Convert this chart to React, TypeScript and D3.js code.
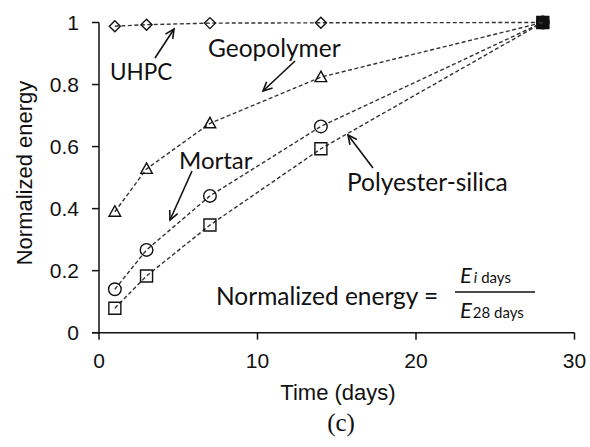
import * as d3 from 'd3'

const days = [1, 3, 7, 14, 28]
const uhpc = [0.988, 0.993, 0.998, 0.999, 1]
const geopolymer = [0.39, 0.528, 0.675, 0.824, 1]
const mortar = [0.14, 0.267, 0.441, 0.665, 1]
const polyesterSilica = [0.079, 0.183, 0.347, 0.593, 1]
const xTicks = [0, 10, 20, 30]
const yTicks = [0, 0.2, 0.4, 0.6, 0.8, 1]

const W = 590
const H = 447

type Marker = 'diamond' | 'triangle' | 'circle' | 'square'

const series: { name: string; values: number[]; marker: Marker }[] = [
  { name: 'Polyester-silica', values: polyesterSilica, marker: 'square' },
  { name: 'Mortar', values: mortar, marker: 'circle' },
  { name: 'Geopolymer', values: geopolymer, marker: 'triangle' },
  { name: 'UHPC', values: uhpc, marker: 'diamond' },
]

// text label + arrow (tail -> head) in pixel space
const notes = [
  { text: 'UHPC', x: 110, y: 80, size: 22.5, tail: [155, 58], head: [174, 29] },
  { text: 'Geopolymer', x: 208, y: 57, size: 24.5, tail: [295, 61], head: [263, 91] },
  { text: 'Mortar', x: 179, y: 169, size: 24, tail: [192, 171], head: [170, 220] },
  { text: 'Polyester-silica', x: 347, y: 191, size: 24.5, tail: [373, 168], head: [348, 135] },
]

function markerPath(m: Marker) {
  switch (m) {
    case 'diamond':
      return 'M0,-5.5L5.5,0L0,5.5L-5.5,0Z'
    case 'triangle':
      return 'M0,-6L5.8,4.5L-5.8,4.5Z'
    case 'square':
      return 'M-6,-6H6V6H-6Z'
    default:
      return d3.arc()({ innerRadius: 0, outerRadius: 6.3, startAngle: 0, endAngle: 2 * Math.PI }) || ''
  }
}

function arrowHead(tail: number[], head: number[]) {
  const a = Math.atan2(head[1] - tail[1], head[0] - tail[0])
  const len = 10
  const spread = 0.45
  const p1 = [head[0] - len * Math.cos(a - spread), head[1] - len * Math.sin(a - spread)]
  const p2 = [head[0] - len * Math.cos(a + spread), head[1] - len * Math.sin(a + spread)]
  return `M${p1[0]},${p1[1]}L${head[0]},${head[1]}L${p2[0]},${p2[1]}`
}

export default function App() {
  const x = d3.scaleLinear().domain([0, 30]).range([99, 574.5])
  const y = d3.scaleLinear().domain([0, 1]).range([332.7, 22.5])

  const line = d3
    .line<number>()
    .x((_, i) => x(days[i]))
    .y(d => y(d))

  const tickFont = '"Liberation Sans", Arial, sans-serif'
  const noteFont = 'Lato, "Open Sans", sans-serif'
  const last = days.length - 1

  return (
    <svg width={W} height={H} style={{ position: 'absolute', left: 0, top: 0, background: '#fff' }}>
      {/* series */}
      {series.map(s => (
        <g key={s.name}>
          <path d={line(s.values) || ''} fill="none" stroke="#333" strokeWidth={1.4} strokeDasharray="4,2.5" />
          {s.values.map((v, i) => (
            <path
              key={i}
              d={markerPath(s.marker)}
              transform={`translate(${x(days[i])},${y(v)})`}
              fill={s.marker === 'square' && i === last ? '#111' : 'none'}
              stroke="#111"
              strokeWidth={1.4}
            />
          ))}
        </g>
      ))}

      {/* axes */}
      <g stroke="#111" strokeWidth={1.5}>
        <line x1={x(0)} x2={x(0)} y1={y(1)} y2={y(0)} />
        <line x1={x(0) - 7} x2={x(30)} y1={y(0)} y2={y(0)} />
        {yTicks.map(t => (
          <line key={t} x1={x(0) - 7} x2={x(0)} y1={y(t)} y2={y(t)} />
        ))}
        {xTicks.map(t => (
          <line key={t} x1={x(t)} x2={x(t)} y1={y(0)} y2={y(0) + 7} />
        ))}
      </g>
      <g fontFamily={tickFont} fontSize={21} fill="#111">
        {yTicks.map(t => (
          <text key={t} x={79} y={y(t)} dy="0.35em" textAnchor="end">
            {d3.format('~g')(t)}
          </text>
        ))}
        {xTicks.map(t => (
          <text key={t} x={x(t)} y={368} textAnchor="middle">
            {t}
          </text>
        ))}
        <text x={338} y={400} textAnchor="middle" fontSize={22}>
          Time (days)
        </text>
        <text transform="translate(32,173) rotate(-90)" textAnchor="middle" fontSize={22}>
          Normalized energy
        </text>
      </g>

      {/* annotations */}
      <g fontFamily={noteFont} fill="#111">
        {notes.map(n => (
          <g key={n.text}>
            <text x={n.x} y={n.y} fontSize={n.size}>
              {n.text}
            </text>
            <line x1={n.tail[0]} y1={n.tail[1]} x2={n.head[0]} y2={n.head[1]} stroke="#111" strokeWidth={1.6} />
            <path d={arrowHead(n.tail, n.head)} fill="none" stroke="#111" strokeWidth={1.6} />
          </g>
        ))}
        <text x={216} y={305} fontSize={24.5}>
          Normalized energy =
        </text>
        <g fontSize={22}>
          <text x={460} y={283}>
            <tspan fontStyle="italic">E</tspan>
            <tspan fontStyle="italic" fontSize={15} dx={2}>i</tspan>
            <tspan fontSize={15}> days</tspan>
          </text>
          <line x1={455} x2={535} y1={292} y2={292} stroke="#111" strokeWidth={1.4} />
          <text x={460} y={318}>
            <tspan fontStyle="italic">E</tspan>
            <tspan fontSize={15} dx={1}>28 days</tspan>
          </text>
        </g>
      </g>

      <text x={341} y={431} textAnchor="middle" fontFamily='"Liberation Serif", "Times New Roman", serif' fontSize={25} fill="#111">
        (c)
      </text>
    </svg>
  )
}
